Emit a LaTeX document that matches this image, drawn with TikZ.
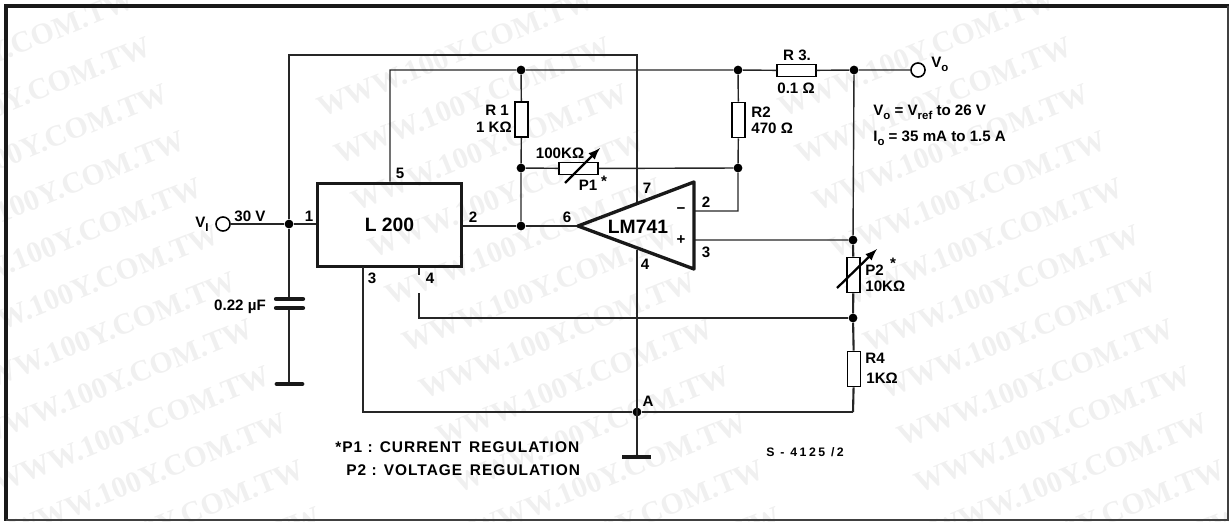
\documentclass[tikz,border=0pt]{standalone}
\usepackage{fontspec}
\setmainfont{Liberation Sans}
\newfontfamily\markfont{Liberation Serif}
\usetikzlibrary{arrows}
\newcommand{\lowidx}[1]{\raisebox{-2.2pt}{\fontsize{6.5}{6.5}\selectfont #1}}
\tikzset{
	wire/.style={line width=0.8pt,black!85},
	heavy/.style={line width=1.9pt,black!90},
	resbox/.style={draw,line width=0.9pt,fill=white,minimum width=7.6pt,minimum height=20pt,inner sep=0pt},
	reshbox/.style={draw,line width=0.9pt,fill=white,minimum width=22pt,minimum height=6.6pt,inner sep=0pt},
	tune/.style={-latex,line width=1.3pt},
	lab/.style={font=\fontsize{8.6}{8.6}\selectfont\bfseries,inner sep=0pt},
	biglab/.style={font=\fontsize{11}{11}\selectfont\bfseries,inner sep=0pt},
	notelab/.style={font=\fontsize{8.8}{8.8}\selectfont\bfseries\addfontfeatures{LetterSpace=6.5},inner sep=0pt,anchor=west},
	watermark/.style={font=\markfont\bfseries\fontsize{17}{17}\selectfont,text=black!6,rotate=22,inner sep=0pt,anchor=east},
	dot/.style={circle,fill=black,inner sep=0pt,minimum size=5pt},
	term/.style={circle,draw,line width=0.9pt,fill=white,inner sep=0pt,minimum size=8pt}
}
\begin{document}
\begin{tikzpicture}[x=0.02cm,y=-0.02cm]
	\useasboundingbox (0,0) rectangle (1229,521);
	% watermark
	\begin{scope}
		\clip (0,0) rectangle (1229,521);
		\foreach \col in {150,610,1071}
			\foreach \row in {-1,...,11}
				\node[watermark] at ({\col+17*\row},{45+47*\row}) {WWW.100Y.COM.TW};
	\end{scope}
	% frame
	\draw[line width=1.9pt,black!90] (1229,6) -- (6,6) -- (6,521);
	\draw[line width=0.8pt,black!75] (1228,6) -- (1228,520) -- (6,520);
	% points
	\coordinate (top left) at (289,55);
	\coordinate (top right) at (637,55);
	\coordinate (rail left) at (390,70);
	\coordinate (amp tip) at (578,226);
	\coordinate (amp top) at (694,182);
	\coordinate (amp bot) at (694,269);
	\coordinate (pin seven) at (637,202);
	\coordinate (pin four) at (637,250);
	\coordinate (minus in) at (694,211);
	\coordinate (minus corner) at (738,211);
	\coordinate (plus in) at (694,240);
	\coordinate (pin three) at (363,267);
	\coordinate (three corner) at (363,412);
	\coordinate (pin fourb) at (419,267);
	\coordinate (pin fourc) at (419,275);
	\coordinate (pin fourd) at (419,293);
	\coordinate (four corner) at (419,318);
	\coordinate (bot corner) at (853,412);
	\coordinate (cap top) at (289,299);
	\coordinate (cap bot) at (289,308);
	\coordinate (gnd one) at (289,384);
	\coordinate (gnd two) at (637,456);
	% the L200
	\node[draw,line width=1.9pt,black!90,minimum width=82pt,minimum height=47.5pt,inner sep=0pt,biglab,text=black] (L200) at (389.5,225) {L 200};
	% junctions
	\node[dot] (in dot) at (289,224) {};
	\node[dot] (r one top) at (521,70) {};
	\node[dot] (p one left) at (521,168) {};
	\node[dot] (out two) at (521,226) {};
	\node[dot] (r two top) at (738,70) {};
	\node[dot] (p one right) at (738,168) {};
	\node[dot] (r three right) at (854,70) {};
	\node[dot] (p two top) at (853,240) {};
	\node[dot] (p two bot) at (853,318) {};
	\node[dot] (A) at (637,412) {};
	\node[term] (Vi) at (223,224) {};
	\node[term] (Vo) at (918,70) {};
	% resistors
	\node[resbox] (R1) at (521.5,119.5) {};
	\node[resbox] (R2) at (738.5,120) {};
	\node[reshbox] (R3) at (796.5,70.5) {};
	\node[resbox] (P2) at (853.5,275) {};
	\node[resbox] (R4) at (854,369) {};
	\node[reshbox] (P1) at (578.5,168.5) {};
	% wires
	\draw[wire] (Vi) -- (in dot);
	\draw[wire,line width=1.2pt] (in dot) -- (in dot -| L200.west);
	\draw[wire] (cap top) -- (in dot) -- (top left) -- (top right) -- (pin seven);
	\draw[wire] (L200.north -| rail left) -- (rail left) -- (r one top) -- (r two top) -- (R3);
	\draw[wire] (R3) -- (r three right) -- (Vo);
	\draw[wire] (r one top) -- (R1) -- (p one left) -- (out two);
	\draw[wire] (p one left) -- (P1) -- (p one right);
	\draw[wire] (r two top) -- (R2) -- (p one right) -- (minus corner) -- (minus in);
	\draw[wire] (r three right) -- (p two top) -- (plus in);
	\draw[wire,line width=1.2pt] (p two top) -- (P2) -- (p two bot) -- (R4) -- (bot corner);
	\draw[wire] (bot corner) -- (A) -- (three corner) -- (pin three);
	\draw[wire] (pin fourb) -- (pin fourc);
	\draw[wire] (pin fourd) -- (four corner) -- (p two bot);
	\draw[wire] (pin four) -- (gnd two);
	\draw[wire] (cap bot) -- (gnd one);
	\draw[wire] (L200.east |- out two) -- (out two) -- (amp tip);
	% the LM741
	\draw[heavy,line join=round] (amp tip) -- (amp top) -- (amp bot) -- cycle;
	\node[biglab] (LM741) at (638,227) {LM741};
	% capacitor and grounds
	\draw[line width=2.4pt,line cap=round,black!90] (276,299) -- (303,299);
	\draw[line width=2.4pt,line cap=round,black!90] (276,308) -- (303,308);
	\draw[line width=2.8pt,line cap=round,black!90] (277,384) -- (302,384);
	\draw[line width=2.8pt,black!90] (622,457) -- (651,457);
	% tuning arrows
	\draw[tune] (565,183) -- (600,148);
	\draw[tune] (837,288) -- (877,249);
	% labels
	\node[lab] (Vi lab) at (202,224) {V\lowidx{I}};
	\node[lab] (Vi volt) at (250,216) {30 V};
	\node[lab] (pin a) at (309,216) {1};
	\node[lab] (pin b) at (473,217) {2};
	\node[lab] (pin c) at (400,173) {5};
	\node[lab] (pin d) at (372,278) {3};
	\node[lab] (pin e) at (430,278) {4};
	\node[lab] (cap lab) at (240,307) {0.22 µF};
	\node[lab] (R1 name) at (497,110) {R 1};
	\node[lab,anchor=east] (R1 val) at (512,127) {1 KΩ};
	\node[lab] (P1 val) at (560,153) {100KΩ};
	\node[lab] (P1 name) at (588,185) {P1};
	\node[lab] (P1 star) at (604,181) {*};
	\node[lab] (amp g) at (647,188) {7};
	\node[lab] (amp f) at (567,217) {6};
	\node[lab] (amp d) at (645,264) {4};
	\node[lab] (amp b) at (706,202) {2};
	\node[lab] (amp c) at (706,252) {3};
	\node[lab] (minus) at (681,211) {−};
	\node[lab] (plus) at (681,240) {+};
	\node[lab] (R3 name) at (797,55) {R 3.};
	\node[lab] (R3 val) at (796,88) {0.1 Ω};
	\node[lab,anchor=west] (R2 name) at (751,112) {R2};
	\node[lab,anchor=west] (R2 val) at (751,128) {470 Ω};
	\node[lab,anchor=west] (Vo lab) at (931,64) {V\lowidx{o}};
	\node[lab,anchor=west] (Vo range) at (873,112) {V\lowidx{o} = V\lowidx{ref} to 26 V};
	\node[lab,anchor=west] (Io range) at (873,138) {I\lowidx{o} = 35 mA to 1.5 A};
	\node[lab,anchor=west] (P2 name) at (865,270) {P2};
	\node[lab] (P2 star) at (893,263) {*};
	\node[lab,anchor=west] (P2 val) at (865,286) {10KΩ};
	\node[lab,anchor=west] (R4 name) at (865,358) {R4};
	\node[lab,anchor=west] (R4 val) at (866,378) {1KΩ};
	\node[lab] (A lab) at (648,401) {A};
	\node[notelab] (note one) at (335,447) {*P1 : CURRENT\enspace REGULATION};
	\node[notelab] (note two) at (346,470) {P2 : VOLTAGE\enspace REGULATION};
	\node[notelab,font=\fontsize{7}{7}\selectfont\bfseries\addfontfeatures{LetterSpace=20}] (code) at (766,452) {S - 4125 /2};
\end{tikzpicture}
\end{document}
